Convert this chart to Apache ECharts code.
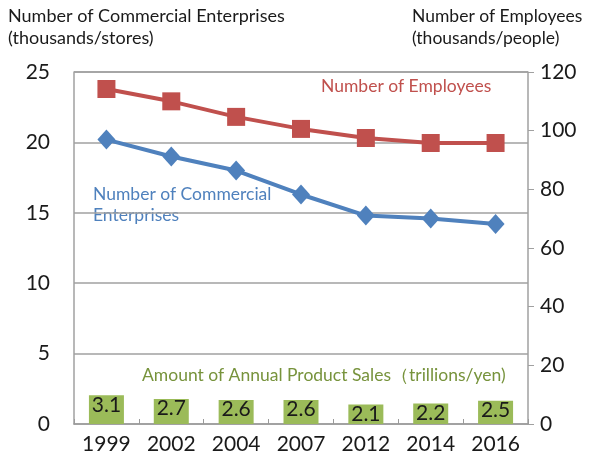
<!DOCTYPE html>
<html><head><meta charset="utf-8">
<script src="https://cdn.jsdelivr.net/npm/echarts@6/dist/echarts.min.js"></script>
<style>html,body{margin:0;padding:0;background:#fff}#c{width:603px;height:463px}</style>
</head><body><div id="c"></div>
<script>
const categories = ['1999','2002','2004','2007','2012','2014','2016'];
const enterprises = [20.2, 19.0, 18.0, 16.3, 14.8, 14.6, 14.2];
const employees = [114.2, 110.0, 104.7, 100.6, 97.5, 95.8, 95.8];
const sales = [3.1, 2.7, 2.6, 2.6, 2.1, 2.2, 2.5];
const leftTicks = [0, 5, 10, 15, 20, 25];
const rightTicks = [0, 20, 40, 60, 80, 100, 120];

const F = 'Lato, "Open Sans", sans-serif';
const chart = echarts.init(document.getElementById('c'));
chart.setOption({
  animation: false,
  backgroundColor: '#fff',
  grid: { left: 74, right: 75, top: 72, bottom: 39 },
  xAxis: {
    type: 'category', data: categories, boundaryGap: true,
    axisLine: { lineStyle: { color: '#9a9a9a', width: 1.5 } },
    axisTick: { show: true, inside: true, length: 5, lineStyle: { color: '#9a9a9a' } },
    axisLabel: { color: '#1a1a1a', fontSize: 21, fontFamily: F, margin: 10 }
  },
  yAxis: [
    { type: 'value', min: leftTicks[0], max: leftTicks[leftTicks.length-1], interval: 5,
      axisLine: { show: true, lineStyle: { color: '#a0a0a0', width: 1.5 } },
      axisTick: { show: false },
      splitLine: { show: true, lineStyle: { color: '#a0a0a0', width: 1.5 } },
      axisLabel: { color: '#1a1a1a', fontSize: 21, fontFamily: F, margin: 24 } },
    { type: 'value', min: rightTicks[0], max: rightTicks[rightTicks.length-1], interval: 20, position: 'right',
      axisLine: { show: true, lineStyle: { color: '#a0a0a0', width: 1.5 } },
      axisTick: { show: true, length: 6, lineStyle: { color: '#a0a0a0' } },
      splitLine: { show: false },
      axisLabel: { color: '#1a1a1a', fontSize: 21, fontFamily: F, margin: 12 } },
    { type: 'value', min: 0, max: 38, show: false, splitLine: { show: false } }
  ],
  series: [
    { type: 'bar', data: sales, yAxisIndex: 2, barWidth: 35,
      itemStyle: { color: '#9BBB59' },
      label: { show: true, position: 'insideTop', distance: -1, color: '#1a1a1a', fontSize: 21, fontFamily: F,
               formatter: p => p.value.toFixed(1) }, z: 1 },
    { type: 'line', data: employees, yAxisIndex: 1,
      lineStyle: { color: '#C0504D', width: 4 }, itemStyle: { color: '#C0504D' },
      symbol: 'rect', symbolSize: 18, z: 3 },
    { type: 'line', data: enterprises, yAxisIndex: 0,
      lineStyle: { color: '#4F81BD', width: 4 }, itemStyle: { color: '#4F81BD' },
      symbol: 'diamond', symbolSize: [18, 20], z: 4 }
  ],
  graphic: [
    { type: 'rect', shape: { x: 74, y: 72, width: 454, height: 0 }, style: { stroke: '#a0a0a0', lineWidth: 1.5 } },
    { type: 'text', left: 8, top: 5, style: { text: 'Number of Commercial Enterprises\n(thousands/stores)', fontSize: 18, lineHeight: 22, fontFamily: F, fill: '#1a1a1a' } },
    { type: 'text', left: 412, top: 5, style: { text: 'Number of Employees\n(thousands/people)', fontSize: 17.5, lineHeight: 22, fontFamily: F, fill: '#1a1a1a' } },
    { type: 'text', left: 321, top: 77, style: { text: 'Number of Employees', fontSize: 17.5, fontFamily: F, fill: '#C0504D' } },
    { type: 'text', left: 93, top: 184, style: { text: 'Number of Commercial\nEnterprises', fontSize: 17.5, lineHeight: 21, fontFamily: F, fill: '#4F81BD' } },
    { type: 'text', left: 142, top: 366, style: { text: 'Amount of Annual Product Sales（trillions/yen)', fontSize: 17.5, fontFamily: F, fill: '#77933C' } }
  ]
});
</script></body></html>
